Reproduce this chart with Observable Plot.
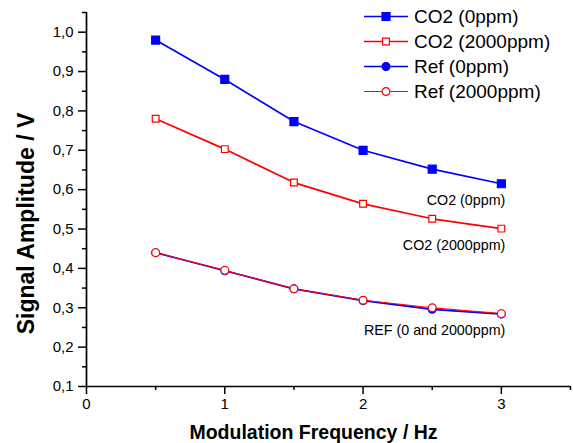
<!DOCTYPE html>
<html>
<head>
<meta charset="utf-8">
<script src="https://cdn.jsdelivr.net/npm/d3@7"></script>
<script src="https://cdn.jsdelivr.net/npm/@observablehq/plot@0.6"></script>
<style>
  body { margin: 0; background: #fff; }
  #wrap { position: relative; width: 573px; height: 443px; font-family: "Liberation Sans", Arial, sans-serif; }
  #legend { position: absolute; left: 363px; top: 4px; }
  .row { display: flex; align-items: center; height: 25px; font-size: 19px; color: #000; white-space: nowrap; }
  .row svg { margin-right: 5px; }
</style>
</head>
<body>
<div id="wrap"><div id="legend"></div></div>
<script>
// ---- data ----
const freq = [0.5, 1, 1.5, 2, 2.5, 3];
const co2_0ppm = [0.980, 0.880, 0.773, 0.700, 0.652, 0.615];
const co2_2000ppm = [0.780, 0.703, 0.618, 0.564, 0.526, 0.501];
const ref_0ppm = [0.440, 0.394, 0.348, 0.318, 0.296, 0.284];
const ref_2000ppm = [0.440, 0.395, 0.348, 0.319, 0.300, 0.285];
const seriesNames = ["CO2 (0ppm)", "CO2 (2000ppm)", "Ref (0ppm)", "Ref (2000ppm)"];
const annotationLabels = ["CO2 (0ppm)", "CO2 (2000ppm)", "REF (0 and 2000ppm)"];
const xMajorTicks = [0, 1, 2, 3];
const xMinorTicks = [0.5, 1.5, 2.5, 3.5];
const yMajorTicks = [0.1, 0.2, 0.3, 0.4, 0.5, 0.6, 0.7, 0.8, 0.9, 1.0];
const yMinorTicks = [0.15, 0.25, 0.35, 0.45, 0.55, 0.65, 0.75, 0.85, 0.95, 1.05];
const xTitle = "Modulation Frequency / Hz";
const yTitle = "Signal Amplitude / V";

// ---- styles per series ----
const styles = [
  {color: "#0000ff", symbol: "square", fill: "#0000ff", r: 4.5, sw: 1.7},
  {color: "#ff0000", symbol: "square", fill: "#ffffff", r: 3.8, sw: 1.7},
  {color: "#0000ff", symbol: "circle", fill: "#0000ff", r: 3.9, sw: 1.7},
  {color: "#ff0000", symbol: "circle", fill: "#ffffff", r: 3.9, sw: 1.1}
];
const seriesValues = [co2_0ppm, co2_2000ppm, ref_0ppm, ref_2000ppm];
const tables = seriesValues.map((vals, s) => freq.map((f, i) => ({series: seriesNames[s], x: f, y: vals[i]})));

const fmt = d => d.toFixed(1).replace(".", ",");
const font = "Liberation Sans, Arial, sans-serif";

// annotation rows tied to the last point of the related series
const annot = [
  {label: annotationLabels[0], x: freq[freq.length - 1], y: co2_0ppm[co2_0ppm.length - 1]},
  {label: annotationLabels[1], x: freq[freq.length - 1], y: co2_2000ppm[co2_2000ppm.length - 1]},
  {label: annotationLabels[2], x: freq[freq.length - 1], y: ref_2000ppm[ref_2000ppm.length - 1]}
];

const seriesMarks = [];
tables.forEach((t, s) => {
  const st = styles[s];
  seriesMarks.push(Plot.line(t, {x: "x", y: "y", stroke: st.color, strokeWidth: st.sw}));
});
tables.forEach((t, s) => {
  const st = styles[s];
  seriesMarks.push(Plot.dot(t, {x: "x", y: "y", symbol: st.symbol, r: st.r, fill: st.fill, stroke: st.color, strokeWidth: 1.2}));
});

const chart = Plot.plot({
  width: 573,
  height: 443,
  marginLeft: 86,
  marginRight: 3,
  marginTop: 12,
  marginBottom: 57,
  style: {fontFamily: font, background: "white", color: "black"},
  x: {domain: [0, 3.5]},
  y: {domain: [0.1, 1.05]},
  marks: [
    Plot.axisY(yMinorTicks, {tickSize: 4, strokeWidth: 1.5, tickFormat: () => "", label: null}),
    Plot.axisY(yMajorTicks, {tickSize: 8, tickPadding: 5, strokeWidth: 1.5, tickFormat: fmt, fontSize: 15, label: null}),
    Plot.axisX(xMinorTicks, {tickSize: 4, strokeWidth: 1.5, tickFormat: () => "", label: null}),
    Plot.axisX(xMajorTicks, {tickSize: 8, tickPadding: 4, strokeWidth: 1.5, tickFormat: d => String(d), fontSize: 15, label: null}),
    Plot.ruleX([0], {y1: 0.1, y2: 1.05, strokeWidth: 1.7}),
    Plot.ruleY([0.1], {x1: 0, x2: 3.5, strokeWidth: 1.7}),
    ...seriesMarks,
    Plot.text(annot, {x: "x", y: "y", text: "label", textAnchor: "end", dx: 4, dy: 17, fontSize: 14.3, fill: "black"}),
    Plot.text([xTitle], {text: d => d, frameAnchor: "bottom", textAnchor: "middle", lineAnchor: "middle", dx: -15, dy: 46, fontSize: 19.5, fontWeight: "bold", fill: "black"}),
    Plot.text([yTitle], {text: d => d, frameAnchor: "left", textAnchor: "middle", lineAnchor: "middle", rotate: -90, dx: -60, dy: 24, fontSize: 23, fontWeight: "bold", fill: "black"})
  ]
});
document.getElementById("wrap").prepend(chart);

// ---- legend ----
const legend = d3.select("#legend");
seriesNames.forEach((name, s) => {
  const st = styles[s];
  const row = legend.append("div").attr("class", "row");
  const svg = row.append("svg").attr("width", 46).attr("height", 25);
  svg.append("line").attr("x1", 1).attr("x2", 45).attr("y1", 12.5).attr("y2", 12.5)
    .attr("stroke", st.color).attr("stroke-width", st.sw);
  const sym = st.symbol === "square" ? d3.symbolSquare : d3.symbolCircle;
  svg.append("path").attr("d", d3.symbol(sym, st.r * st.r * Math.PI)())
    .attr("transform", "translate(23,12.5)")
    .attr("fill", st.fill).attr("stroke", st.color).attr("stroke-width", 1.2);
  row.append("span").text(name);
});
</script>
</body>
</html>
